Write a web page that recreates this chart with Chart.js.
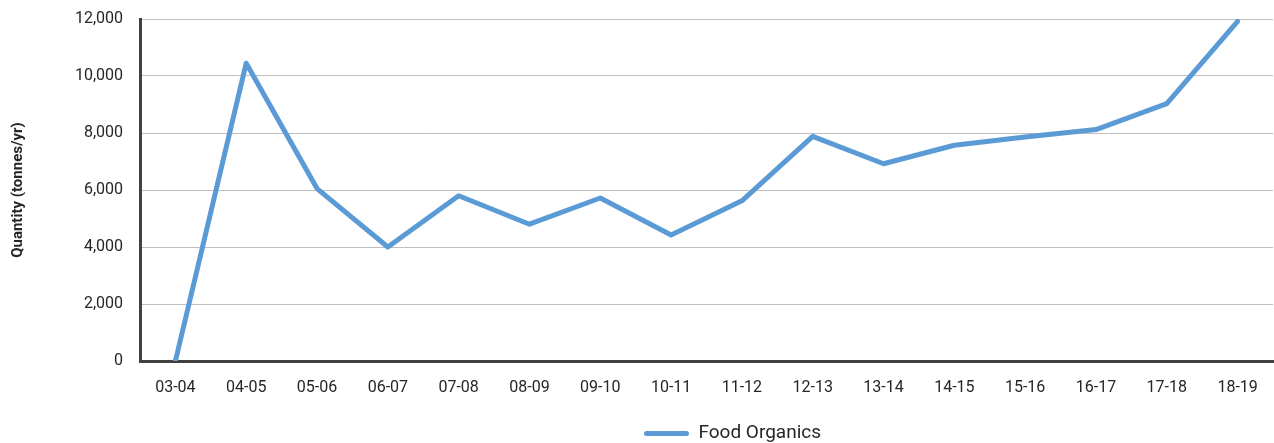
<!DOCTYPE html>
<html>
<head>
<meta charset="utf-8">
<script src="https://cdn.jsdelivr.net/npm/chart.js@4"></script>
<style>
html,body{margin:0;padding:0;background:#fff;}
#wrap{width:1274px;height:443px;position:relative;}
</style>
</head>
<body>
<div id="wrap"><canvas id="c"></canvas></div>
<script>
const categories = ['03-04','04-05','05-06','06-07','07-08','08-09','09-10','10-11','11-12','12-13','13-14','14-15','15-16','16-17','17-18','18-19'];
const foodOrganics = [0, 10450, 6050, 4000, 5800, 4800, 5720, 4420, 5620, 7880, 6920, 7570, 7860, 8120, 9030, 11920];
const yTicks = [0, 2000, 4000, 6000, 8000, 10000, 12000];
const seriesName = 'Food Organics';
const yTitle = 'Quantity (tonnes/yr)';

const BLUE = '#5B9BD5';
const TEXT = '#262626';

const legendShift = {
  id: 'legendShift',
  afterLayout(chart) {
    const lg = chart.legend;
    if (lg) { lg.left += 96; lg.right += 96; }
  }
};

new Chart(document.getElementById('c'), {
  type: 'line',
  data: {
    labels: categories,
    datasets: [{
      label: seriesName,
      data: foodOrganics,
      borderColor: BLUE,
      backgroundColor: BLUE,
      borderWidth: 5,
      pointRadius: 0,
      pointHoverRadius: 0,
      tension: 0,
      borderJoinStyle: 'round',
      borderCapStyle: 'round'
    }]
  },
  plugins: [legendShift],
  options: {
    responsive: true,
    maintainAspectRatio: false,
    animation: false,
    layout: { padding: { top: 19, right: 1, left: 0, bottom: -10 } },
    plugins: {
      tooltip: { enabled: false },
      legend: {
        position: 'bottom',
        labels: {
          font: { family: 'Roboto', size: 19 },
          color: TEXT,
          boxWidth: 45,
          boxHeight: 5,
          useBorderRadius: true,
          borderRadius: 2.5,
          padding: 10,
          generateLabels: (chart) => [{
            text: seriesName,
            fillStyle: BLUE,
            strokeStyle: BLUE,
            lineWidth: 0,
            fontColor: TEXT,
            datasetIndex: 0,
            borderRadius: 2.5
          }]
        }
      }
    },
    scales: {
      x: {
        offset: true,
        grid: { display: false, drawTicks: false },
        border: { display: true, color: '#404040', width: 3 },
        ticks: {
          font: { family: 'Roboto', size: 16 },
          color: TEXT,
          padding: 17,
          maxRotation: 0,
          autoSkip: false
        },
        afterFit: (s) => { s.height = 53; s.paddingLeft = 0; s.paddingRight = 0; }
      },
      y: {
        min: 0,
        max: 12000,
        afterBuildTicks: (s) => { s.ticks = yTicks.map(v => ({ value: v })); },
        grid: { color: '#BFBFBF', lineWidth: 1, drawTicks: false },
        border: { display: true, color: '#404040', width: 3 },
        ticks: {
          font: { family: 'Roboto', size: 16 },
          color: TEXT,
          padding: 17,
          callback: (v) => Number(v).toLocaleString('en-US')
        },
        title: {
          display: true,
          text: yTitle,
          font: { family: 'Roboto', size: 15, weight: 'bold' },
          color: TEXT,
          padding: { top: 9, bottom: 0 }
        },
        afterFit: (s) => { s.width = 140; s.paddingTop = 0; s.paddingBottom = 0; }
      }
    }
  }
});
</script>
</body>
</html>
